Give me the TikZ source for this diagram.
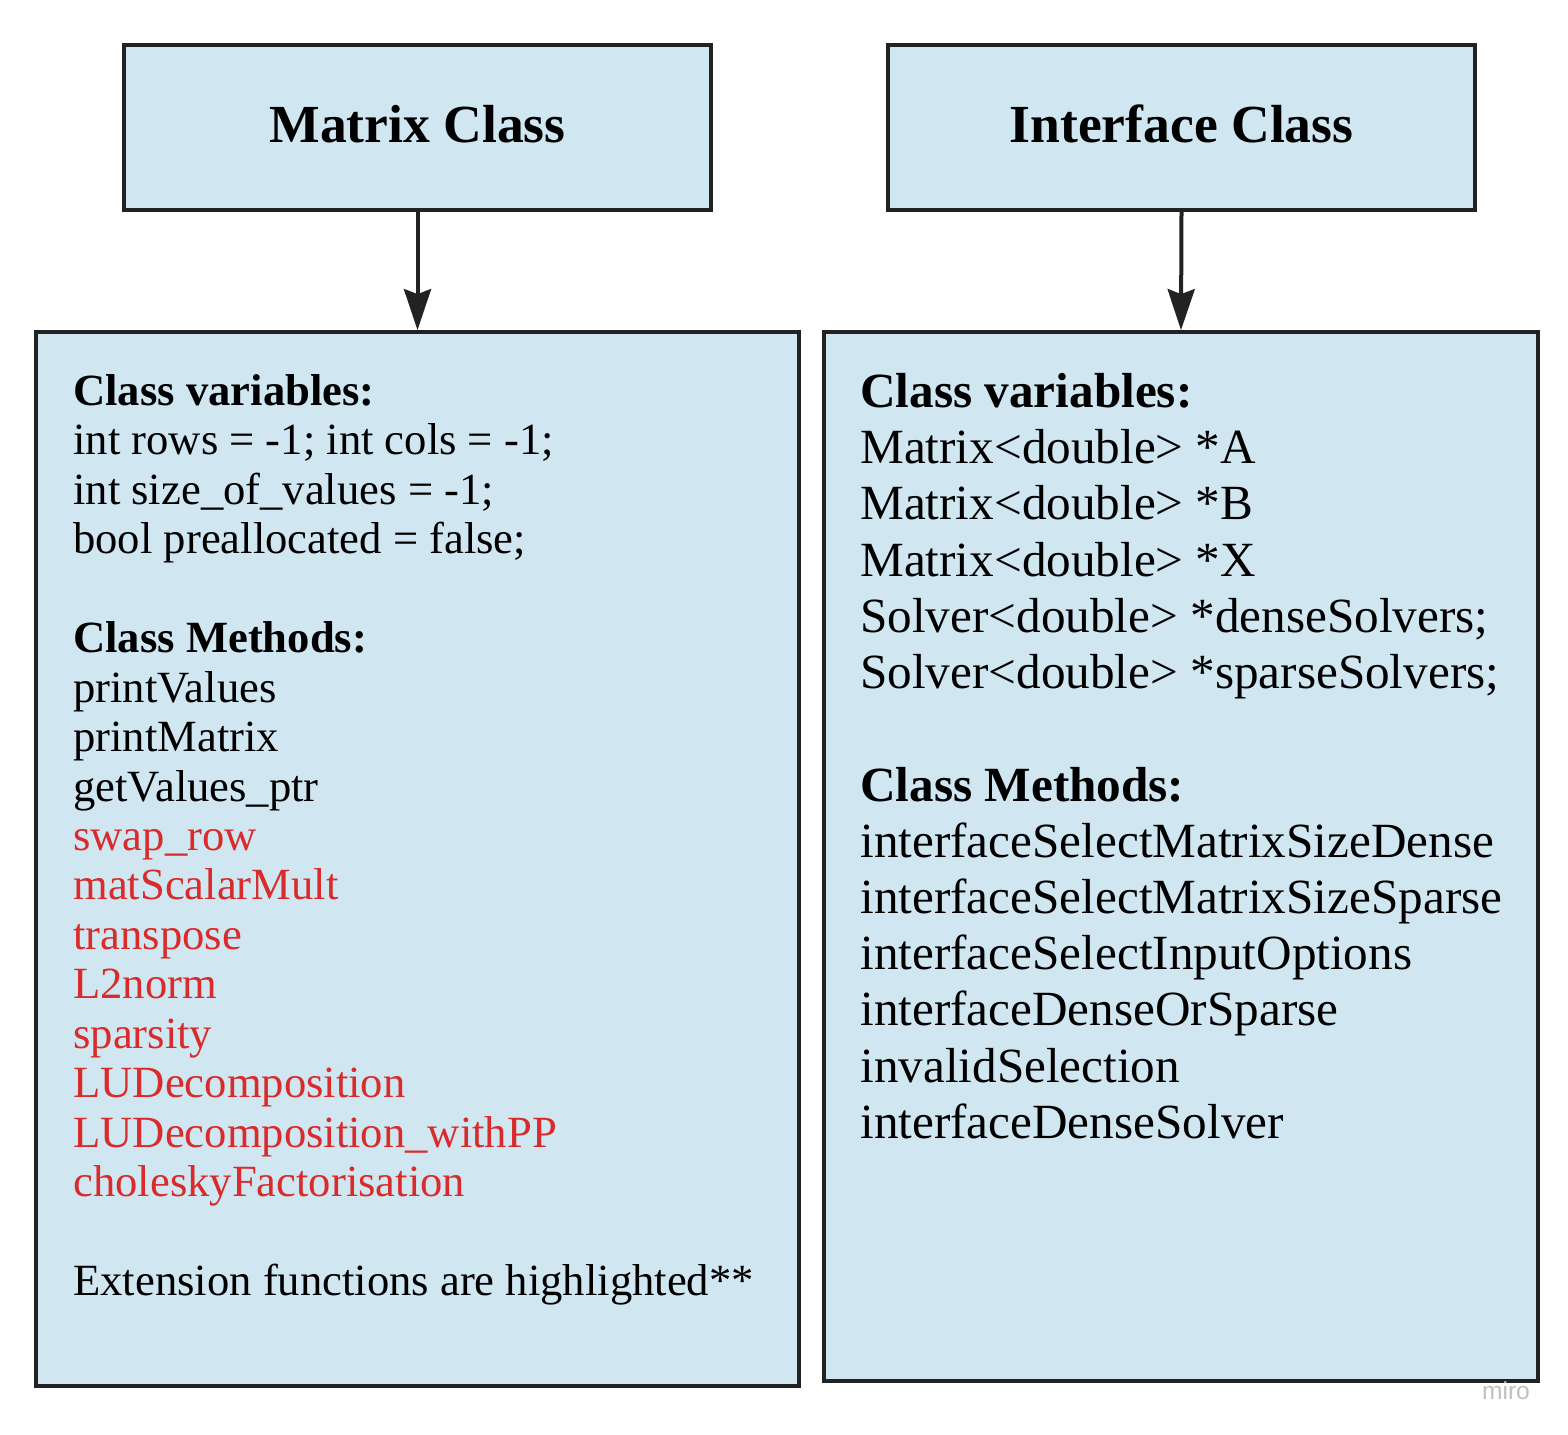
\documentclass[tikz,border=0pt]{standalone}
\usepackage{fontspec}
\setmainfont{Liberation Serif}
\setsansfont{Liberation Sans}
\usetikzlibrary{arrows.meta}

\definecolor{boxfill}{HTML}{D0E7F1}
\definecolor{boxline}{HTML}{222222}
\definecolor{extred}{HTML}{D92B2B}

\tikzset{
  titlebox/.style={draw=boxline,fill=boxfill,line width=4*0.02cm,
    minimum width=11.74cm,minimum height=3.3cm,inner sep=0pt,text depth=0.14cm,
    font=\fontsize{30.5}{34}\selectfont\bfseries},
  classbox/.style={draw=boxline,fill=boxfill,line width=4*0.02cm,inner sep=0pt},
  classtext/.style={anchor=north west,inner sep=0pt,align=left},
  inherit/.style={draw=boxline,line width=4*0.02cm,
    -{Stealth[length=0.82cm,width=0.54cm,inset=0.1cm]}}
}

\begin{document}
\begin{tikzpicture}[x=0.02cm,y=-0.02cm]
   \useasboundingbox (0,0) rectangle (1568,1434);

   % top boxes
   \node[titlebox] (matT) at (417.5,127.5) {Matrix Class};
   \node[titlebox] (intT) at (1181.5,127.5) {Interface Class};

   % class boxes
   \node[classbox,minimum width=15.26cm,minimum height=21.08cm]
     (matB) at (417.5,859) {};
   \node[classbox,minimum width=14.28cm,minimum height=20.98cm]
     (intB) at (1181,856.5) {};

   \draw[inherit] (matT.south) -- (matB.north);
   \draw[inherit] (intT.south) -- (intB.north);

   \node[classtext,font=\fontsize{25.4}{28.15}\selectfont] (matV) at (73,374)
   {\textbf{Class variables:}\\
    int rows = -1; int cols = -1;\\
    int size\_of\_values = -1;\\
    bool preallocated = false;\\[28.15pt]
    \textbf{Class Methods:}\\
    printValues\\
    printMatrix\\
    getValues\_ptr\\
    \textcolor{extred}{swap\_row}\\
    \textcolor{extred}{matScalarMult}\\
    \textcolor{extred}{transpose}\\
    \textcolor{extred}{L2norm}\\
    \textcolor{extred}{sparsity}\\
    \textcolor{extred}{LUDecomposition}\\
    \textcolor{extred}{LUDecomposition\_withPP}\\
    \textcolor{extred}{choleskyFactorisation}\\[28.15pt]
    Extension functions are highlighted**};

   \node[classtext,font=\fontsize{28}{32}\selectfont] (intV) at (860,373)
   {\textbf{Class variables:}\\
    Matrix<double> *A\\
    Matrix<double> *B\\
    Matrix<double> *X\\
    Solver<double> *denseSolvers;\\
    Solver<double> *sparseSolvers;\\[32pt]
    \textbf{Class Methods:}\\
    interfaceSelectMatrixSizeDense\\
    interfaceSelectMatrixSizeSparse\\
    interfaceSelectInputOptions\\
    interfaceDenseOrSparse\\
    invalidSelection\\
    interfaceDenseSolver};

   \node[text=black!25,font=\sffamily\fontsize{14}{14}\selectfont] (miro)
     at (1506,1391) {miro};
\end{tikzpicture}
\end{document}
